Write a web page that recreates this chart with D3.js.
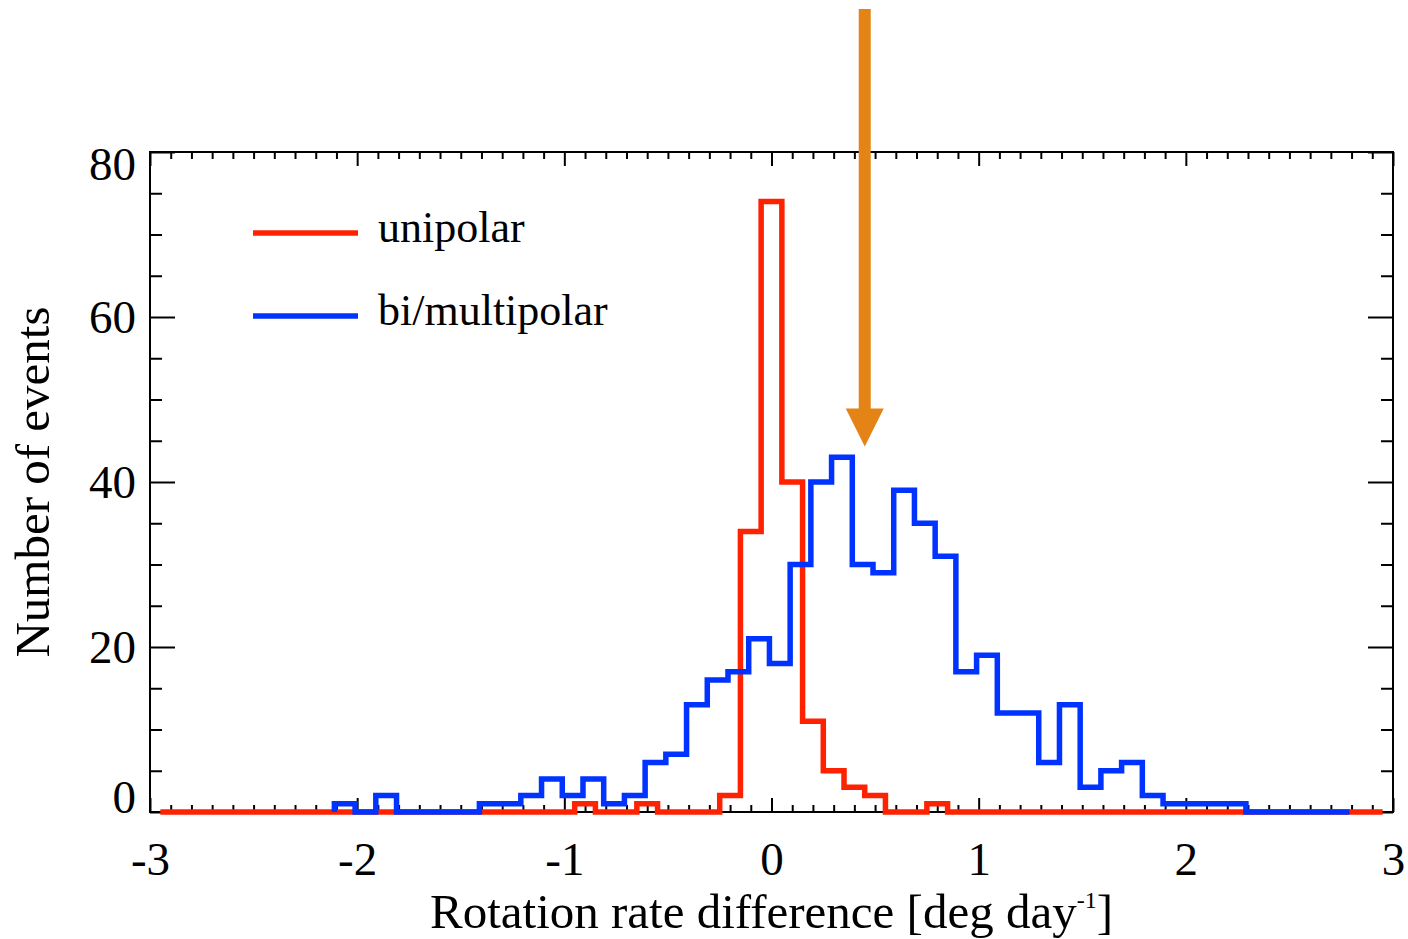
<!DOCTYPE html>
<html>
<head>
<meta charset="utf-8">
<script src="https://cdn.jsdelivr.net/npm/d3@7"></script>
<style>
  html, body { margin: 0; padding: 0; background: #fff; }
  svg { display: block; font-family: "Liberation Serif", "Times New Roman", serif; }
</style>
</head>
<body>
<svg id="chart" width="1408" height="939"></svg>
<script>
// Histogram bins: width 0.1 deg/day; each series starts at its own lower edge
const binWidth = 0.1;
const unipolarStart = -2.95;
const multipolarStart = -2.11;

// Counts per bin, unipolar events (bin centres -2.9 ... 2.9)
const unipolarCounts = [
  0, 0, 0, 0, 0, 0, 0, 0, 0, 0,
  0, 0, 0, 0, 0, 0, 0, 0, 0, 0,
  1, 0, 0, 1, 0, 0, 0, 2, 34, 74,
  40, 11, 5, 3, 2, 0, 0, 1, 0, 0,
  0, 0, 0, 0, 0, 0, 0, 0, 0, 0,
  0, 0, 0, 0, 0, 0, 0, 0, 0
];

// Counts per bin, bi/multipolar events (lower edges -2.11 ... 2.69)
const multipolarCounts = [
  1, 0, 2, 0, 0, 0, 0, 1, 1, 2,
  4, 2, 4, 1, 2, 6, 7, 13, 16, 17,
  21, 18, 30, 40, 43, 30, 29, 39, 35, 31,
  17, 19, 12, 12, 6, 13, 3, 5, 6, 2,
  1, 1, 1, 1, 0, 0, 0, 0, 0
];

const seriesNames = ["unipolar", "bi/multipolar"];
const seriesColors = ["#ff2200", "#0033ff"];

const xMajorTicks = [-3, -2, -1, 0, 1, 2, 3];
const yMajorTicks = [0, 20, 40, 60, 80];

// Marker for the mean offset of the bi/multipolar distribution
const arrowX = 0.45;
const arrowTipValue = 44.3;

const svg = d3.select("#chart");
const plotLeft = 150, plotRight = 1393, plotTop = 152, plotBottom = 812;

const x = d3.scaleLinear().domain([-3, 3]).range([plotLeft, plotRight]);
const y = d3.scaleLinear().domain([0, 80]).range([plotBottom, plotTop]);

const xMinor = d3.range(-30, 31).map(d => d / 10).filter(d => !xMajorTicks.includes(d));
const yMinor = d3.range(0, 81, 5).filter(d => !yMajorTicks.includes(d));

// Plain hyphen for negative labels
const plainNumber = d => String(d);

const axisStroke = g => {
  g.select(".domain").remove();
  g.selectAll(".tick line").attr("stroke", "#000").attr("stroke-width", 2);
};
const labelFont = g => g.selectAll("text")
  .attr("font-family", "Liberation Serif, Times New Roman, serif")
  .attr("font-size", 47).attr("fill", "#000");

// Bottom axis: major ticks with labels, minor ticks
svg.append("g").attr("transform", `translate(0,${plotBottom})`)
  .call(d3.axisBottom(x).tickValues(xMinor).tickSize(-7).tickFormat(""))
  .call(axisStroke);
svg.append("g").attr("transform", `translate(0,${plotBottom})`)
  .call(d3.axisBottom(x).tickValues(xMajorTicks).tickSize(-14).tickPadding(30).tickFormat(plainNumber))
  .call(axisStroke).call(labelFont);
// Top axis (ticks only)
svg.append("g").attr("transform", `translate(0,${plotTop})`)
  .call(d3.axisTop(x).tickValues(xMinor).tickSize(-7).tickFormat(""))
  .call(axisStroke);
svg.append("g").attr("transform", `translate(0,${plotTop})`)
  .call(d3.axisTop(x).tickValues(xMajorTicks).tickSize(-14).tickFormat(""))
  .call(axisStroke);

// Left axis
svg.append("g").attr("transform", `translate(${plotLeft},0)`)
  .call(d3.axisLeft(y).tickValues(yMinor).tickSize(-12).tickFormat(""))
  .call(axisStroke);
const yAxisG = svg.append("g").attr("transform", `translate(${plotLeft},0)`)
  .call(d3.axisLeft(y).tickValues(yMajorTicks).tickSize(-25).tickPadding(14).tickFormat(plainNumber))
  .call(axisStroke).call(labelFont);
// End labels sit just inside the frame
yAxisG.selectAll(".tick text").attr("dy", d => d === 80 ? "0.58em" : d === 0 ? "0.0em" : "0.32em");

// Right axis (ticks only)
svg.append("g").attr("transform", `translate(${plotRight},0)`)
  .call(d3.axisRight(y).tickValues(yMinor).tickSize(-12).tickFormat(""))
  .call(axisStroke);
svg.append("g").attr("transform", `translate(${plotRight},0)`)
  .call(d3.axisRight(y).tickValues(yMajorTicks).tickSize(-25).tickFormat(""))
  .call(axisStroke);

// Frame
svg.append("rect")
  .attr("x", plotLeft).attr("y", plotTop)
  .attr("width", plotRight - plotLeft).attr("height", plotBottom - plotTop)
  .attr("fill", "none").attr("stroke", "#000").attr("stroke-width", 2);

// Step outline for a histogram
function stepPoints(start, counts) {
  const pts = [[start, 0]];
  counts.forEach((c, i) => {
    const e0 = start + i * binWidth, e1 = start + (i + 1) * binWidth;
    pts.push([e0, c], [e1, c]);
  });
  pts.push([start + counts.length * binWidth, 0]);
  return pts;
}
const line = d3.line().x(d => x(d[0])).y(d => y(d[1]));

[[unipolarStart, unipolarCounts, seriesColors[0]],
 [multipolarStart, multipolarCounts, seriesColors[1]]].forEach(([s, c, col]) => {
  svg.append("path")
    .attr("d", line(stepPoints(s, c)))
    .attr("fill", "none")
    .attr("stroke", col)
    .attr("stroke-width", 5.5)
    .attr("stroke-linejoin", "miter")
    .attr("stroke-linecap", "butt");
});

// Legend
const legend = svg.append("g");
seriesNames.forEach((name, i) => {
  const ly = 233 + i * 83;
  legend.append("line")
    .attr("x1", 253).attr("x2", 358).attr("y1", ly).attr("y2", ly)
    .attr("stroke", seriesColors[i]).attr("stroke-width", 5.5);
  legend.append("text")
    .attr("x", 378).attr("y", ly + 9)
    .attr("font-size", 44).attr("fill", "#000")
    .text(name);
});

// Arrow
const ax = x(arrowX);
const tipY = y(arrowTipValue);
svg.append("rect")
  .attr("x", ax - 6).attr("y", 9)
  .attr("width", 12).attr("height", tipY - 9 - 35)
  .attr("fill", "#e58416");
svg.append("path")
  .attr("d", `M${ax - 19},${tipY - 38} L${ax + 19},${tipY - 38} L${ax},${tipY} Z`)
  .attr("fill", "#e58416");

// Axis titles
const xTitle = svg.append("text")
  .attr("x", (plotLeft + plotRight) / 2).attr("y", 928)
  .attr("text-anchor", "middle")
  .attr("font-size", 49).attr("fill", "#000");
xTitle.append("tspan").text("Rotation rate difference [deg day");
xTitle.append("tspan").attr("font-size", 24).attr("dy", -20).text("-1");
xTitle.append("tspan").attr("dy", 20).text("]");

svg.append("text")
  .attr("transform", `translate(49,${(plotTop + plotBottom) / 2}) rotate(-90)`)
  .attr("text-anchor", "middle")
  .attr("font-size", 49).attr("fill", "#000")
  .text("Number of events");
</script>
</body>
</html>
